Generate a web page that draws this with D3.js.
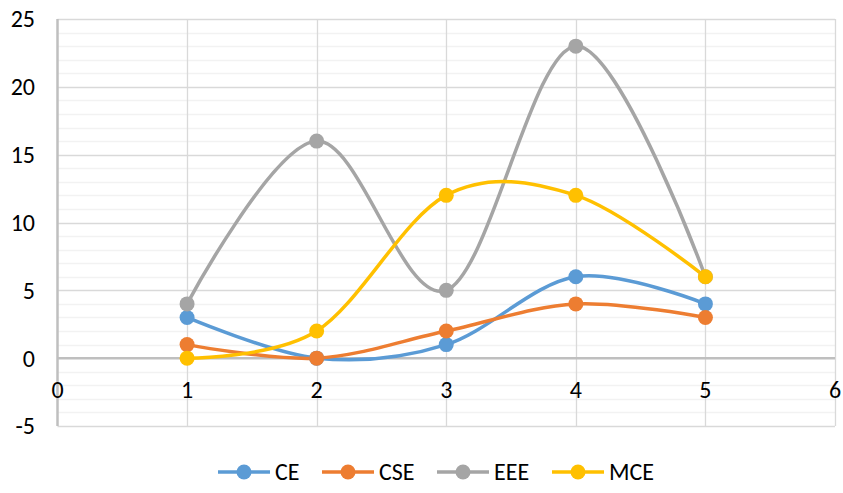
<!DOCTYPE html>
<html>
<head>
<meta charset="utf-8">
<script src="https://cdn.jsdelivr.net/npm/d3@7"></script>
<style>
  html, body { margin: 0; padding: 0; background: #fff; }
  svg { display: block; font-family: Carlito, Lato, "Open Sans", sans-serif; }
</style>
</head>
<body>
<svg id="chart" width="843" height="493"></svg>
<script>
// Data
const xValues = [1, 2, 3, 4, 5];
const seriesNames = ["CE", "CSE", "EEE", "MCE"];
const ceValues  = [3, 0, 1, 6, 4];
const cseValues = [1, 0, 2, 4, 3];
const eeeValues = [4, 16, 5, 23, 6];
const mceValues = [0, 2, 12, 12, 6];
const seriesColors = ["#5B9BD5", "#ED7D31", "#A5A5A5", "#FFC000"];
const xTicks = [0, 1, 2, 3, 4, 5, 6];
const yTicks = [-5, 0, 5, 10, 15, 20, 25];

const allValues = [ceValues, cseValues, eeeValues, mceValues];
const series = seriesNames.map((name, i) => ({
  name,
  color: seriesColors[i],
  points: xValues.map((x, j) => ({ x, y: allValues[i][j] }))
}));

const svg = d3.select("#chart");
const plot = { left: 57.5, right: 835, top: 19, bottom: 426 };
const fontSize = 24;

const x = d3.scaleLinear().domain([0, 6]).range([plot.left, plot.right]);
const y = d3.scaleLinear().domain([-5, 25]).range([plot.bottom, plot.top]);

// Minor horizontal gridlines (every 1 unit)
svg.append("g").selectAll("line")
  .data(d3.range(-5, 26, 1).filter(v => v % 5 !== 0))
  .join("line")
  .attr("x1", plot.left).attr("x2", plot.right)
  .attr("y1", d => Math.round(y(d)) + 0.5).attr("y2", d => Math.round(y(d)) + 0.5)
  .attr("stroke", "#f2f2f2").attr("stroke-width", 1.3);

// Major horizontal gridlines
svg.append("g").selectAll("line")
  .data(yTicks.filter(v => v !== 0))
  .join("line")
  .attr("x1", plot.left).attr("x2", plot.right)
  .attr("y1", d => Math.round(y(d)) + 0.5).attr("y2", d => Math.round(y(d)) + 0.5)
  .attr("stroke", "#d9d9d9").attr("stroke-width", 1.3);

// Major vertical gridlines
svg.append("g").selectAll("line")
  .data(xTicks.filter(v => v !== 0))
  .join("line")
  .attr("x1", d => Math.round(x(d)) + 0.5).attr("x2", d => Math.round(x(d)) + 0.5)
  .attr("y1", plot.top).attr("y2", plot.bottom)
  .attr("stroke", "#d9d9d9").attr("stroke-width", 1.3);

// Axis lines: vertical at x=0, horizontal at y=0
svg.append("line")
  .attr("x1", x(0)).attr("x2", x(0))
  .attr("y1", plot.top).attr("y2", plot.bottom)
  .attr("stroke", "#bfbfbf").attr("stroke-width", 2.5);
svg.append("line")
  .attr("x1", plot.left).attr("x2", plot.right)
  .attr("y1", y(0)).attr("y2", y(0))
  .attr("stroke", "#bfbfbf").attr("stroke-width", 2.5);

// Y tick labels
svg.append("g").selectAll("text")
  .data(yTicks)
  .join("text")
  .attr("x", 35)
  .attr("y", d => y(d))
  .attr("dy", "0.35em")
  .attr("text-anchor", "end")
  .attr("font-size", fontSize)
  .attr("fill", "#000")
  .text(d => d);

// X tick labels, placed under the y=0 axis line
svg.append("g").selectAll("text")
  .data(xTicks)
  .join("text")
  .attr("x", d => x(d))
  .attr("y", y(0) + 31)
  .attr("dy", "0.35em")
  .attr("text-anchor", "middle")
  .attr("font-size", fontSize)
  .attr("fill", "#000")
  .text(d => d);

// Smoothed lines
const line = d3.line()
  .x(d => x(d.x))
  .y(d => y(d.y))
  .curve(d3.curveCardinal.tension(0));

const g = svg.append("g");
series.forEach(s => {
  g.append("path")
    .datum(s.points)
    .attr("d", line)
    .attr("fill", "none")
    .attr("stroke", s.color)
    .attr("stroke-width", 3.5)
    .attr("stroke-linecap", "round");
});
series.forEach(s => {
  g.selectAll(null)
    .data(s.points)
    .join("circle")
    .attr("cx", d => x(d.x))
    .attr("cy", d => y(d.y))
    .attr("r", 7.5)
    .attr("fill", s.color);
});

// Legend
const legendX = [218, 322, 437, 552];
const legendY = 472;
const legend = svg.append("g");
series.forEach((s, i) => {
  const lx = legendX[i];
  legend.append("line")
    .attr("x1", lx).attr("x2", lx + 52)
    .attr("y1", legendY).attr("y2", legendY)
    .attr("stroke", s.color).attr("stroke-width", 3.5);
  legend.append("circle")
    .attr("cx", lx + 26).attr("cy", legendY).attr("r", 7.5)
    .attr("fill", s.color);
  legend.append("text")
    .attr("x", lx + 57).attr("y", legendY)
    .attr("dy", "0.35em")
    .attr("font-size", fontSize)
    .attr("fill", "#000")
    .text(s.name);
});
</script>
</body>
</html>
